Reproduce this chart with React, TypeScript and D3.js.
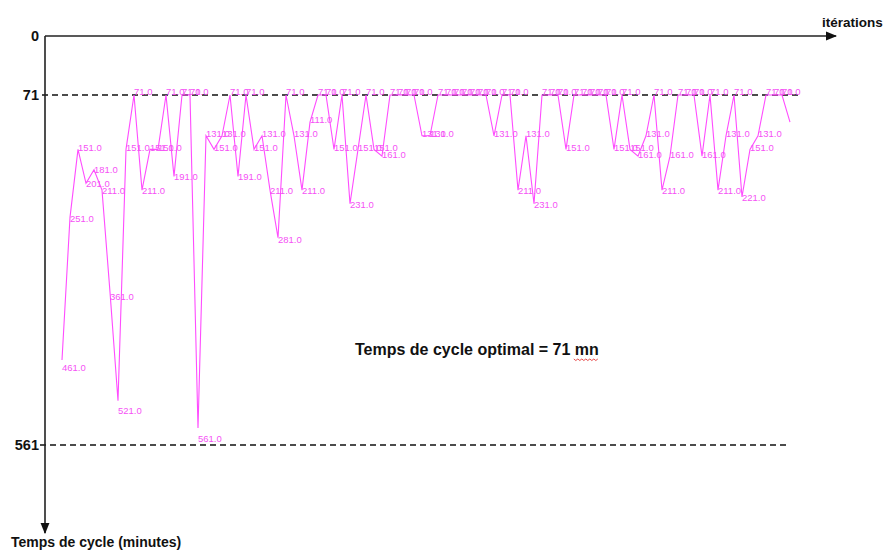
import { useEffect, useRef } from 'react';
import * as d3 from 'd3';

// temps de cycle (minutes) for each iteration
const cycleTimes = [
  461, 251, 151, 201, 181, 211, 361, 521, 151, 71,
  211, 151, 151, 71, 191, 71, 71, 561, 131, 151,
  131, 71, 191, 71, 151, 131, 211, 281, 71, 131,
  211, 111, 71, 71, 151, 71, 231, 151, 71, 151,
  161, 71, 71, 71, 71, 131, 131, 71, 71, 71,
  71, 71, 71, 71, 131, 71, 71, 211, 131, 231,
  71, 71, 71, 151, 71, 71, 71, 71, 71, 151,
  71, 151, 161, 131, 71, 211, 161, 71, 71, 71,
  161, 71, 211, 131, 71, 221, 151, 131, 71, 71,
  71, 111,
];
const iterations = cycleTimes.map((_, i) => i);

const yTicks = [0, 71, 561];
const refLines = [71, 561];
const optimal = 71;

const FONT = "'Liberation Sans', Arial, Helvetica, sans-serif";

export default function App() {
  const svgRef = useRef<SVGSVGElement>(null);

  useEffect(() => {
    if (!svgRef.current) return;
    const svg = d3.select(svgRef.current);
    svg.selectAll('*').remove();

    const W = 894, H = 551;
    const x0 = 45, yTop = 36;

    svg.attr('width', W).attr('height', H);

    const x = d3.scaleLinear()
      .domain([0, iterations.length - 1])
      .range([62, 790]);

    // axis scale (labels + dashed guides)
    const yAxis = d3.scaleLinear().domain(yTicks).range([yTop, 95, 445]);
    // the curve itself is drawn a bit compressed, as in the original
    const yLine = d3.scaleLinear().domain([71, 561]).range([95, 428]);
    const yLabel = d3.scaleLinear().domain([71, 561]).range([94.5, 442]);

    const defs = svg.append('defs');
    defs.append('marker')
      .attr('id', 'arrow')
      .attr('viewBox', '0 0 10 10')
      .attr('refX', 9).attr('refY', 5)
      .attr('markerWidth', 7).attr('markerHeight', 7)
      .attr('orient', 'auto')
      .append('path').attr('d', 'M0,1 L10,5 L0,9 Z').attr('fill', '#111');

    // dashed reference lines
    svg.selectAll('.ref')
      .data(refLines)
      .enter().append('line')
      .attr('x1', d => d === 71 ? 42 : 40)
      .attr('x2', d => d === 71 ? 798 : 790)
      .attr('y1', d => yAxis(d)).attr('y2', d => yAxis(d))
      .attr('stroke', '#111').attr('stroke-width', 1.3)
      .attr('stroke-dasharray', '6,4');

    // axes
    svg.append('line')
      .attr('x1', x0).attr('y1', yTop).attr('x2', 836).attr('y2', yTop)
      .attr('stroke', '#222').attr('stroke-width', 1.6)
      .attr('marker-end', 'url(#arrow)');
    svg.append('line')
      .attr('x1', x0).attr('y1', yTop).attr('x2', x0).attr('y2', 533)
      .attr('stroke', '#222').attr('stroke-width', 1.6)
      .attr('marker-end', 'url(#arrow)');

    svg.selectAll('.ytick')
      .data(yTicks)
      .enter().append('text')
      .attr('x', 39)
      .attr('y', d => yAxis(d))
      .attr('dy', '0.36em')
      .attr('text-anchor', 'end')
      .attr('font-family', FONT).attr('font-weight', 'bold').attr('font-size', '14.5px')
      .attr('fill', '#111')
      .text(d => String(d));

    svg.append('text')
      .attr('x', 822).attr('y', 27)
      .attr('font-family', FONT).attr('font-weight', 'bold').attr('font-size', '13.5px')
      .attr('fill', '#111')
      .text('itérations');

    svg.append('text')
      .attr('x', 11).attr('y', 547)
      .attr('font-family', FONT).attr('font-weight', 'bold').attr('font-size', '14px')
      .attr('fill', '#111')
      .text('Temps de cycle (minutes)');

    const note = svg.append('text')
      .attr('x', 355).attr('y', 355)
      .attr('font-family', FONT).attr('font-weight', 'bold').attr('font-size', '16px')
      .attr('fill', '#111')
      .text(`Temps de cycle optimal = ${optimal} mn`);

    // red spell-check squiggle under "mn"
    const bb = (note.node() as SVGTextElement).getBBox();
    const sx = bb.x + bb.width - 25, ex = bb.x + bb.width;
    const wave: [number, number][] = d3.range(sx, ex + 0.1, 2).map((px, i) => [px, 359 + (i % 2 ? 1.5 : 0)]);
    svg.append('path')
      .attr('d', d3.line()(wave))
      .attr('fill', 'none').attr('stroke', '#e02020').attr('stroke-width', 0.8);

    // curve
    const line = d3.line<number>()
      .x((_, i) => x(i))
      .y(d => yLine(d));

    svg.append('path')
      .datum(cycleTimes)
      .attr('d', line)
      .attr('fill', 'none')
      .attr('stroke', '#ff4cff')
      .attr('stroke-width', 1.1);

    // value labels (the last point has none in the original)
    svg.selectAll('.val-label')
      .data(cycleTimes.slice(0, -1))
      .enter().append('text')
      .attr('x', (_, i) => x(i))
      .attr('y', d => yLabel(d))
      .attr('fill', '#f552f5')
      .attr('font-family', FONT)
      .attr('font-size', '9.5px')
      .text(d => d3.format('.1f')(d));
  }, []);

  return (
    <div style={{ position: 'fixed', left: 0, top: 0, width: 894, height: 551, overflow: 'hidden', background: '#fff' }}>
      <svg ref={svgRef} style={{ display: 'block' }} />
    </div>
  );
}
